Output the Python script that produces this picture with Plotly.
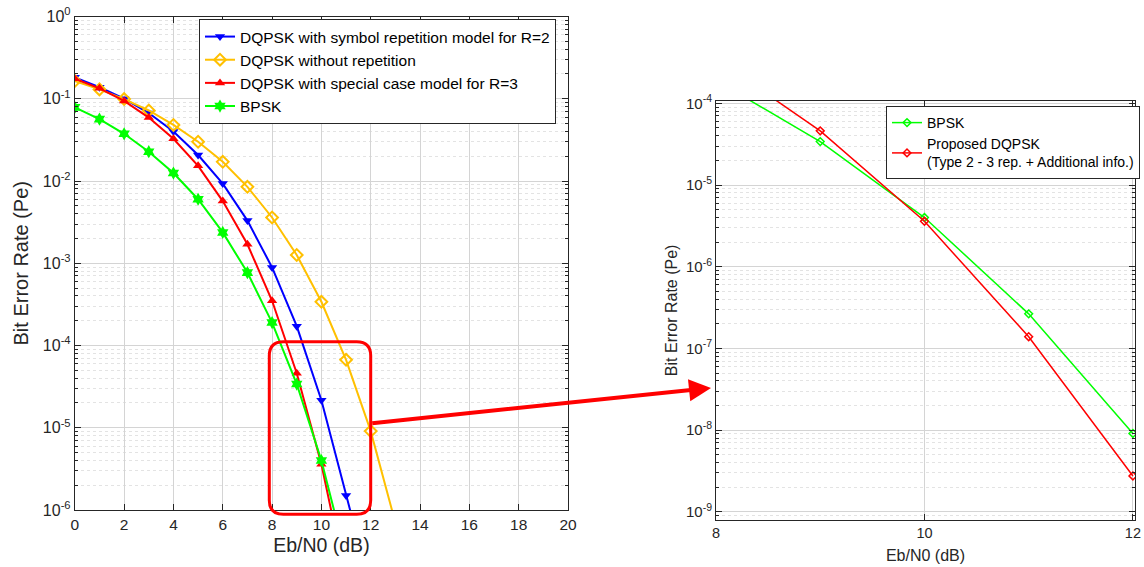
import plotly.graph_objects as go

W, H = 1144, 567

# ---------------- data ----------------
ebn0 = [0, 1, 2, 3, 4, 5, 6, 7, 8, 9, 10, 11, 12, 13]

ber_rep_r2 = [0.182, 0.138, 0.100, 0.067, 0.040, 0.0207, 0.0093, 0.0033, 8.9e-4,
              1.72e-4, 2.16e-5, 1.5e-6, 1.1e-7]
ber_no_rep = [0.164, 0.130, 0.099, 0.072, 0.048, 0.030, 0.0171, 0.0085, 0.0036,
              1.26e-3, 3.4e-4, 6.7e-5, 9.1e-6, 7.0e-7]
ber_special_r3 = [0.175, 0.134, 0.094, 0.059, 0.0326, 0.0153, 0.0057, 0.0017, 3.5e-4,
                  4.6e-5, 3.6e-6, 1.39e-7, 2.75e-9]
ber_bpsk = [0.0786, 0.0566, 0.0375, 0.0227, 0.0125, 0.0060, 0.00237, 7.7e-4, 1.9e-4,
            3.4e-5, 4.0e-6, 2.65e-7, 9.1e-9]

names_left = ["DQPSK with symbol repetition model for R=2",
              "DQPSK without repetition",
              "DQPSK with special case model for R=3",
              "BPSK"]
names_right = ["BPSK", "Proposed DQPSK<br>(Type 2 - 3 rep. + Additional info.)"]

x_ticks_left = [0, 2, 4, 6, 8, 10, 12, 14, 16, 18, 20]
y_ticks_left = [1, 1e-1, 1e-2, 1e-3, 1e-4, 1e-5, 1e-6]
y_text_left = ["10<sup>0</sup>", "10<sup>-1</sup>", "10<sup>-2</sup>", "10<sup>-3</sup>",
               "10<sup>-4</sup>", "10<sup>-5</sup>", "10<sup>-6</sup>"]
x_ticks_right = [8, 10, 12]
y_ticks_right = [1e-4, 1e-5, 1e-6, 1e-7, 1e-8, 1e-9]
y_text_right = ["10<sup>-4</sup>", "10<sup>-5</sup>", "10<sup>-6</sup>", "10<sup>-7</sup>",
                "10<sup>-8</sup>", "10<sup>-9</sup>"]

# ---------------- styles ----------------
FONT = "Liberation Sans, Arial, sans-serif"
BLUE = "#0000FF"
GOLD = "#FFC000"
RED = "#FF0000"
GREEN = "#00FF00"
GRID = "#D4D4D4"
MINOR = "#E3E3E3"
INK = "#262626"


def px_x(p):
    return p / W


def px_y(p):
    return 1 - p / H


fig = go.Figure()

fig.add_trace(go.Scatter(x=ebn0[:len(ber_rep_r2)], y=ber_rep_r2, name=names_left[0],
                         mode="lines+markers", line=dict(color=BLUE, width=2),
                         marker=dict(symbol="triangle-down", size=9, color=BLUE),
                         xaxis="x", yaxis="y", legend="legend"))
fig.add_trace(go.Scatter(x=ebn0[:len(ber_no_rep)], y=ber_no_rep, name=names_left[1],
                         mode="lines+markers", line=dict(color=GOLD, width=2),
                         marker=dict(symbol="diamond-open", size=9, color=GOLD,
                                     line=dict(width=2, color=GOLD)),
                         xaxis="x", yaxis="y", legend="legend"))
fig.add_trace(go.Scatter(x=ebn0[:len(ber_special_r3)], y=ber_special_r3, name=names_left[2],
                         mode="lines+markers", line=dict(color=RED, width=2),
                         marker=dict(symbol="triangle-up", size=9, color=RED),
                         xaxis="x", yaxis="y", legend="legend"))
fig.add_trace(go.Scatter(x=ebn0[:len(ber_bpsk)], y=ber_bpsk, name=names_left[3],
                         mode="lines+markers", line=dict(color=GREEN, width=2),
                         marker=dict(symbol="hexagram", size=10, color=GREEN),
                         xaxis="x", yaxis="y", legend="legend"))

# right zoomed chart
fig.add_trace(go.Scatter(x=ebn0[8:len(ber_bpsk)], y=ber_bpsk[8:], name=names_right[0],
                         mode="lines+markers", line=dict(color=GREEN, width=1.5),
                         marker=dict(symbol="diamond-open", size=6, color=GREEN,
                                     line=dict(width=1.5, color=GREEN)),
                         xaxis="x2", yaxis="y2", legend="legend2"))
fig.add_trace(go.Scatter(x=ebn0[8:len(ber_special_r3)], y=ber_special_r3[8:], name=names_right[1],
                         mode="lines+markers", line=dict(color=RED, width=1.5),
                         marker=dict(symbol="diamond-open", size=6, color=RED,
                                     line=dict(width=1.5, color=RED)),
                         xaxis="x2", yaxis="y2", legend="legend2"))


def minor_vals(lo, hi):
    vals = []
    for e in range(lo, hi):
        for m in range(2, 10):
            vals.append(m * 10.0 ** e)
    return vals


def axis_style(tsize):
    return dict(showline=True, linecolor=INK, linewidth=1, mirror="ticks",
                ticks="inside", ticklen=6, tickcolor=INK, showgrid=True,
                gridcolor=GRID, gridwidth=1, zeroline=False, automargin=False,
                ticklabeloverflow="allow",
                tickfont=dict(family=FONT, size=tsize, color=INK))


fig.update_layout(
    width=W, height=H, template="none", autosize=False,
    paper_bgcolor="white", plot_bgcolor="white",
    margin=dict(l=0, r=0, t=0, b=0),
    font=dict(family=FONT, color=INK),
    xaxis=dict(**axis_style(15.5), domain=[px_x(74.8), px_x(568)], range=[0, 20],
               tickvals=x_ticks_left, anchor="y",
               title=dict(text="Eb/N0 (dB)", font=dict(family=FONT, size=19.5), standoff=6)),
    yaxis=dict(**axis_style(16), domain=[px_y(510), px_y(16.5)], type="log", range=[-6, 0],
               tickvals=y_ticks_left, ticktext=y_text_left, anchor="x",
               minor=dict(tickvals=minor_vals(-6, 0), showgrid=True, griddash="dot",
                          gridcolor=MINOR, ticks="inside", ticklen=3, tickcolor=INK),
               title=dict(text="Bit Error Rate (Pe)", font=dict(family=FONT, size=20), standoff=8)),
    xaxis2=dict(**axis_style(14.5), domain=[px_x(716), px_x(1135)], range=[8, 12.02],
                tickvals=x_ticks_right, anchor="y2",
                title=dict(text="Eb/N0 (dB)", font=dict(family=FONT, size=16), standoff=9)),
    yaxis2=dict(**axis_style(15), domain=[px_y(520), px_y(100.7)], type="log", range=[-9.10, -3.968],
                tickvals=y_ticks_right, ticktext=y_text_right, anchor="x2",
                minor=dict(tickvals=minor_vals(-10, -3), showgrid=True, griddash="dot",
                           gridcolor=MINOR, ticks="inside", ticklen=3, tickcolor=INK),
                title=dict(text="Bit Error Rate (Pe)", font=dict(family=FONT, size=16), standoff=4)),
    legend=dict(x=px_x(199), y=px_y(19), xanchor="left", yanchor="top",
                bgcolor="white", bordercolor=INK, borderwidth=1,
                font=dict(family=FONT, size=15.5, color="black"),
                tracegroupgap=0, itemwidth=30),
    legend2=dict(x=px_x(886), y=px_y(106), xanchor="left", yanchor="top",
                 bgcolor="white", bordercolor=INK, borderwidth=1,
                 font=dict(family=FONT, size=14, color="black"),
                 tracegroupgap=0, itemwidth=30),
    showlegend=True,
)

# rounded red rectangle (zoom region marker)
x0, x1, y0, y1, r = 269.3, 370.7, 341.7, 514.3, 14
pts = [
    f"M {px_x(x0 + r)},{px_y(y0)}",
    f"L {px_x(x1 - r)},{px_y(y0)}",
    f"Q {px_x(x1)},{px_y(y0)} {px_x(x1)},{px_y(y0 + r)}",
    f"L {px_x(x1)},{px_y(y1 - r)}",
    f"Q {px_x(x1)},{px_y(y1)} {px_x(x1 - r)},{px_y(y1)}",
    f"L {px_x(x0 + r)},{px_y(y1)}",
    f"Q {px_x(x0)},{px_y(y1)} {px_x(x0)},{px_y(y1 - r)}",
    f"L {px_x(x0)},{px_y(y0 + r)}",
    f"Q {px_x(x0)},{px_y(y0)} {px_x(x0 + r)},{px_y(y0)} Z",
]
fig.add_shape(type="path", path=" ".join(pts), xref="paper", yref="paper",
              line=dict(color=RED, width=3), fillcolor="rgba(0,0,0,0)")

# arrow from box to zoomed chart
fig.add_annotation(x=px_x(711), y=px_y(388), xref="paper", yref="paper",
                   ax=370.7 - 711, ay=423.3 - 388, axref="pixel", ayref="pixel",
                   text="", showarrow=True, arrowhead=2, arrowsize=1.1,
                   arrowwidth=4, arrowcolor=RED)

fig.write_html("out.html",
               config={"displayModeBar": False, "responsive": False},
               post_script="document.body.style.margin='0';")
